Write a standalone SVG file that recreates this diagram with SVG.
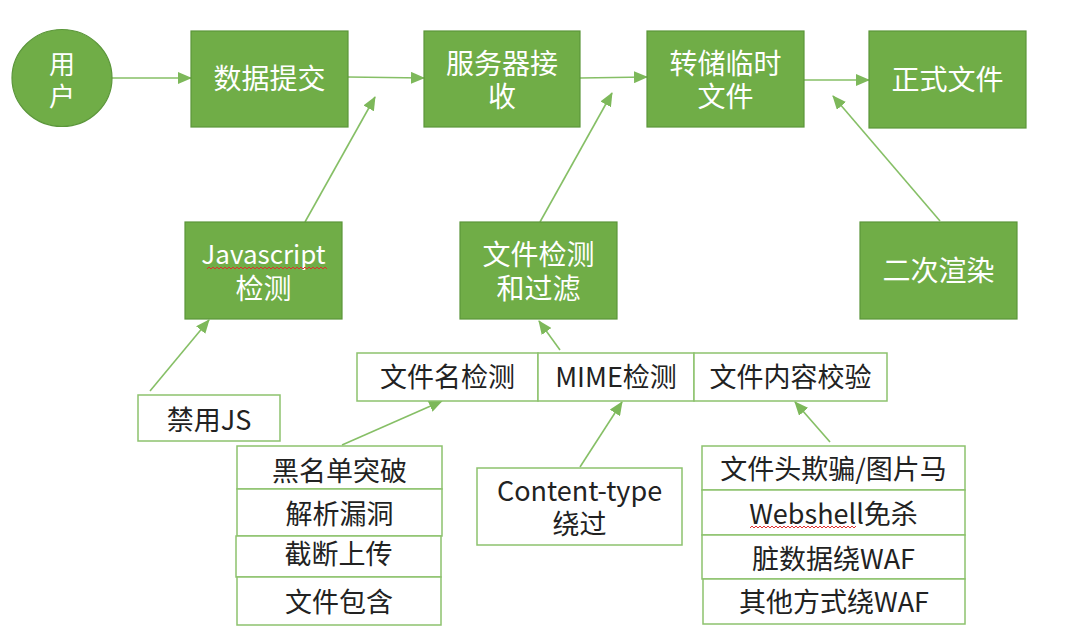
<svg xmlns="http://www.w3.org/2000/svg" width="1085" height="644" viewBox="0 0 1085 644">
<defs>
<style>
.g{fill:#70AD47;stroke:#5B963A;stroke-width:1.2}
.w{fill:#FFFFFF;stroke:#8DC26E;stroke-width:1.5}
.tg{font-family:"Noto Sans CJK SC","Noto Sans",sans-serif;font-size:28px;fill:#FFFFFF;text-anchor:middle}
.tw{font-family:"Noto Sans CJK SC","Noto Sans",sans-serif;font-size:27px;fill:#222222;text-anchor:middle}
.c{stroke:#86BF66;stroke-width:1.6;fill:none;marker-end:url(#ah)}
.sq{stroke:#E03030;stroke-width:1;fill:none}
</style>
<marker id="ah" markerUnits="userSpaceOnUse" markerWidth="14" markerHeight="12" viewBox="0 0 14 12" refX="13" refY="6" orient="auto">
<path d="M0,0 L14,6 L0,12 Z" fill="#7DB85A"/>
</marker>
</defs>
<rect width="1085" height="644" fill="#FFFFFF"/>

<g id="connectors">
<line class="c" x1="112" y1="78" x2="191" y2="78"/>
<line class="c" x1="348" y1="77" x2="424" y2="78"/>
<line class="c" x1="580" y1="78" x2="647" y2="77"/>
<line class="c" x1="804" y1="80" x2="869" y2="80"/>
<line class="c" x1="305" y1="222" x2="375" y2="97"/>
<line class="c" x1="540" y1="222" x2="612" y2="93"/>
<line class="c" x1="940" y1="221" x2="833" y2="96"/>
<line class="c" x1="150" y1="391" x2="209" y2="320"/>
<line class="c" x1="560" y1="350" x2="539" y2="321"/>
<line class="c" x1="342" y1="445" x2="442" y2="401"/>
<line class="c" x1="580" y1="467" x2="622" y2="402"/>
<line class="c" x1="830" y1="442" x2="795" y2="402"/>
</g>

<g id="user">
<ellipse class="g" cx="62" cy="78" rx="50" ry="48.5"/>
<text class="tg" style="font-size:26px"><tspan x="62" y="74">用</tspan><tspan x="62" y="106">户</tspan></text>
</g>

<g id="submit">
<rect class="g" x="191" y="31" width="157" height="96"/>
<text class="tg" x="269.5" y="89">数据提交</text>
</g>

<g id="server">
<rect class="g" x="424" y="31" width="156" height="96"/>
<text class="tg"><tspan x="502" y="74">服务器接</tspan><tspan x="502" y="107">收</tspan></text>
</g>

<g id="temp">
<rect class="g" x="647" y="31" width="157" height="96"/>
<text class="tg"><tspan x="725.5" y="74">转储临时</tspan><tspan x="725.5" y="107">文件</tspan></text>
</g>

<g id="final">
<rect class="g" x="869" y="31" width="157" height="97"/>
<text class="tg" x="947.5" y="90">正式文件</text>
</g>

<g id="jscheck">
<rect class="g" x="185" y="222" width="157" height="97"/>
<text class="tg"><tspan x="263.5" y="264" style="font-size:26px">Javascript</tspan><tspan x="263.5" y="299">检测</tspan></text>
<path class="sq" d="M207,269 l2,-2 l2,2 l2,-2 l2,2 l2,-2 l2,2 l2,-2 l2,2 l2,-2 l2,2 l2,-2 l2,2 l2,-2 l2,2 l2,-2 l2,2 l2,-2 l2,2 l2,-2 l2,2 l2,-2 l2,2 l2,-2 l2,2 l2,-2 l2,2 l2,-2 l2,2 l2,-2 l2,2 l2,-2 l2,2 l2,-2 l2,2 l2,-2 l2,2 l2,-2 l2,2 l2,-2 l2,2 l2,-2 l2,2 l2,-2 l2,2 l2,-2 l2,2 l2,-2 l2,2 l2,-2 l2,2 l2,-2 l2,2 l2,-2 l2,2 l2,-2 l2,2 l2,-2 l2,2 l2,-2 l2,2"/>
</g>

<g id="filecheck">
<rect class="g" x="460" y="222" width="157" height="97"/>
<text class="tg"><tspan x="538.5" y="265">文件检测</tspan><tspan x="538.5" y="299">和过滤</tspan></text>
</g>

<g id="rerender">
<rect class="g" x="860" y="222" width="157" height="97"/>
<text class="tg" x="938.5" y="281">二次渲染</text>
</g>

<g id="disablejs">
<rect class="w" x="138" y="395" width="142" height="46"/>
<text class="tw" x="209" y="430">禁用JS</text>
</g>

<g id="filename">
<rect class="w" x="357" y="353" width="181" height="48"/>
<text class="tw" x="447.5" y="387">文件名检测</text>
</g>

<g id="mime">
<rect class="w" x="538" y="353" width="156" height="48"/>
<text class="tw" x="616" y="387">MIME检测</text>
</g>

<g id="content">
<rect class="w" x="694" y="353" width="193" height="48"/>
<text class="tw" x="790.5" y="387">文件内容校验</text>
</g>

<g id="blacklist">
<rect class="w" x="237" y="446" width="205" height="43"/>
<text class="tw" x="339.5" y="481">黑名单突破</text>
</g>
<g id="parse">
<rect class="w" x="237" y="489" width="205" height="47"/>
<text class="tw" x="339.5" y="524">解析漏洞</text>
</g>
<g id="truncate">
<rect class="w" x="236" y="536" width="205" height="41"/>
<text class="tw" x="338.5" y="564">截断上传</text>
</g>
<g id="include">
<rect class="w" x="237" y="577" width="204" height="48"/>
<text class="tw" x="339" y="612">文件包含</text>
</g>

<g id="contenttype">
<rect class="w" x="477" y="468" width="205" height="77"/>
<text class="tw"><tspan x="579.5" y="501">Content-type</tspan><tspan x="579.5" y="534">绕过</tspan></text>
</g>

<g id="header">
<rect class="w" x="702" y="446" width="263" height="44"/>
<text class="tw" x="833.5" y="479">文件头欺骗/图片马</text>
</g>
<g id="webshell">
<rect class="w" x="702" y="490" width="263" height="45"/>
<text class="tw" x="833.5" y="524">Webshell免杀</text>
<path class="sq" d="M750,528 l2,-2 l2,2 l2,-2 l2,2 l2,-2 l2,2 l2,-2 l2,2 l2,-2 l2,2 l2,-2 l2,2 l2,-2 l2,2 l2,-2 l2,2 l2,-2 l2,2 l2,-2 l2,2 l2,-2 l2,2 l2,-2 l2,2 l2,-2 l2,2 l2,-2 l2,2 l2,-2 l2,2 l2,-2 l2,2 l2,-2 l2,2 l2,-2 l2,2 l2,-2 l2,2 l2,-2 l2,2 l2,-2 l2,2 l2,-2 l2,2 l2,-2 l2,2 l2,-2 l2,2 l2,-2 l2,2 l2,-2 l2,2 l2,-2"/>
</g>
<g id="dirty">
<rect class="w" x="702" y="535" width="263" height="44"/>
<text class="tw" x="833.5" y="569">脏数据绕WAF</text>
</g>
<g id="other">
<rect class="w" x="703" y="579" width="262" height="45"/>
<text class="tw" x="834" y="612">其他方式绕WAF</text>
</g>
</svg>
